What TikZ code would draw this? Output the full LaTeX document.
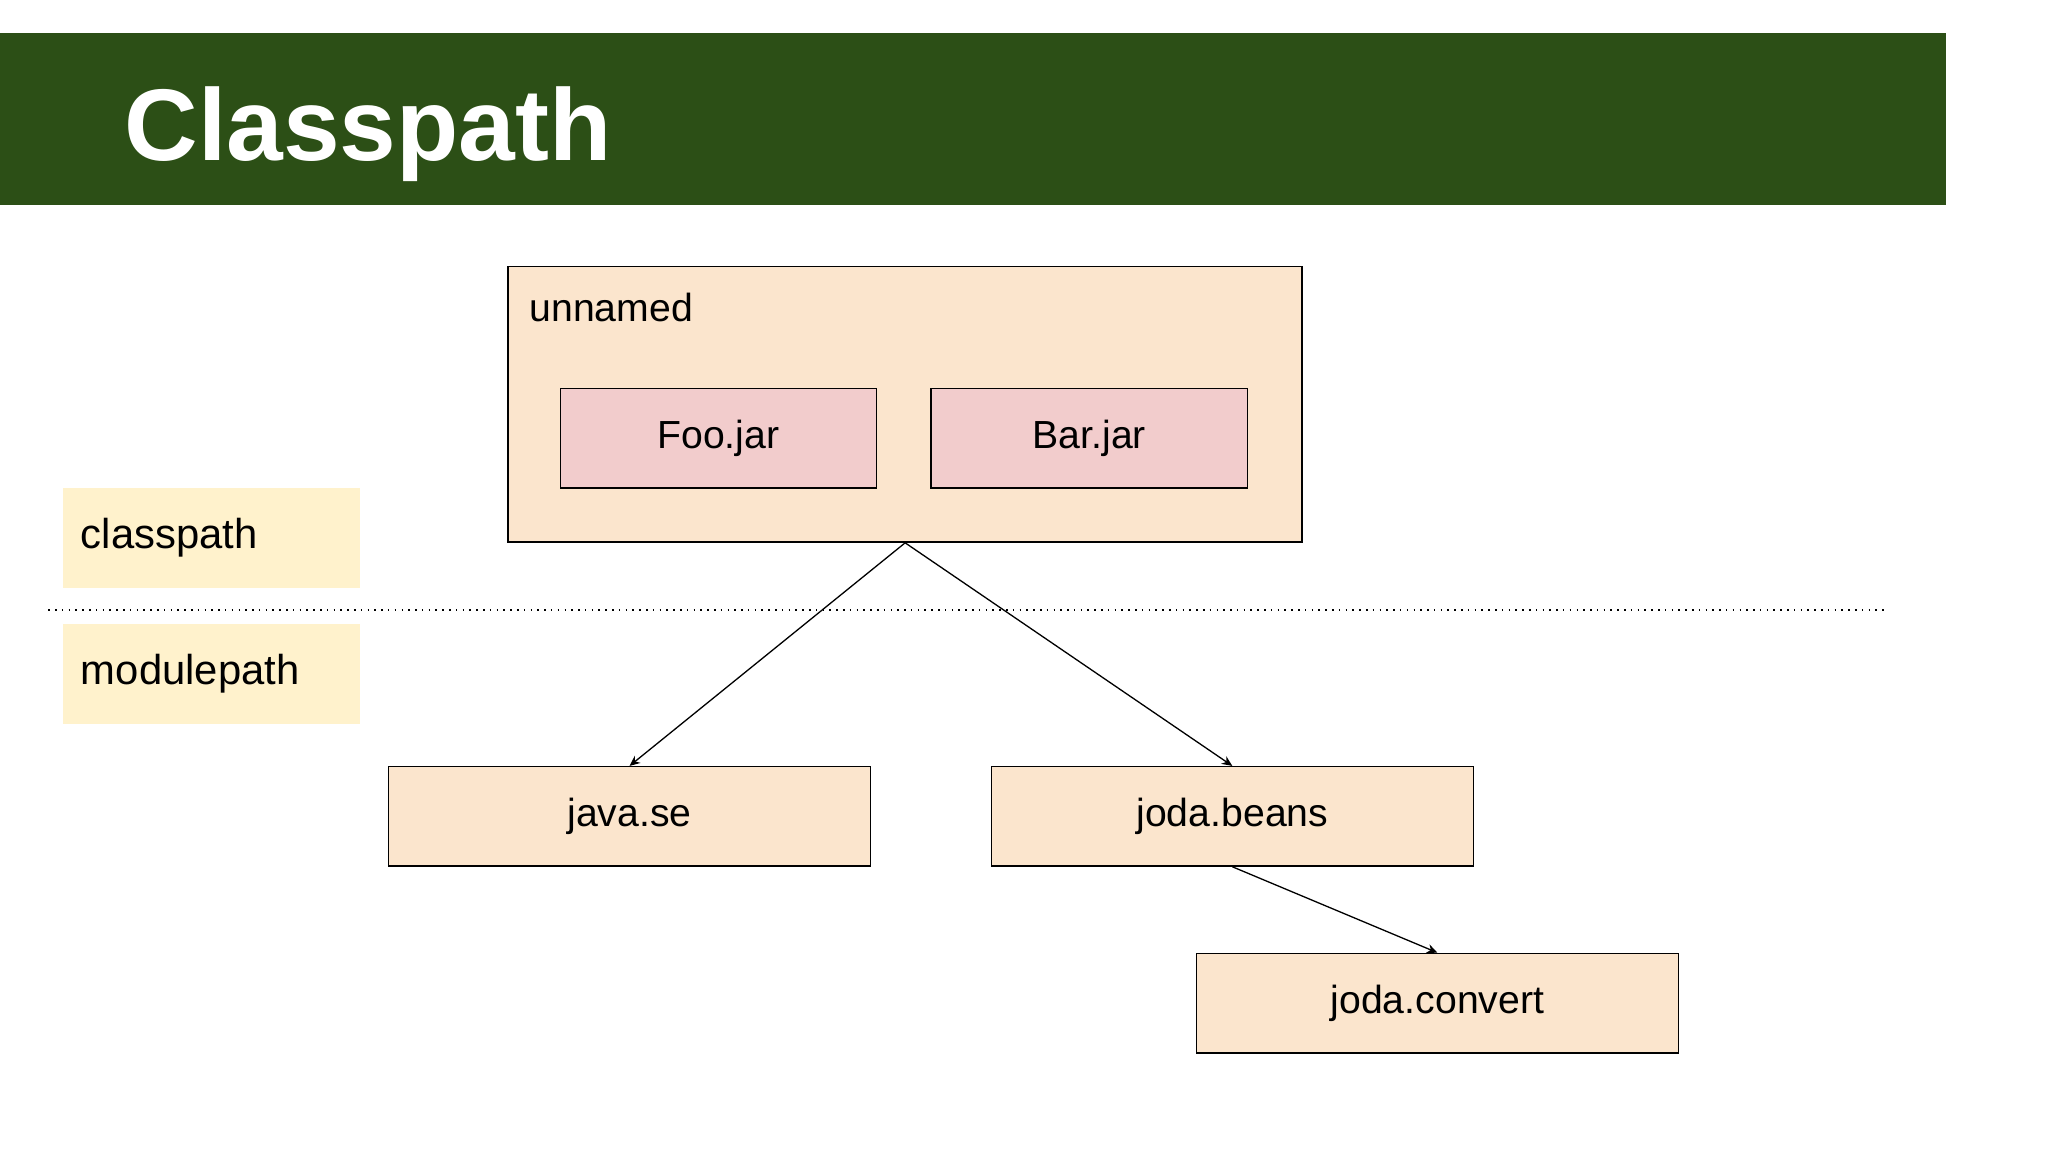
\documentclass[tikz,border=0pt]{standalone}
\usepackage{fontspec}
\setmainfont{Liberation Sans}
\usetikzlibrary{arrows.meta}
\definecolor{hdr}{HTML}{2C4F16}
\definecolor{peach}{HTML}{FBE5CD}
\definecolor{pinkb}{HTML}{F2CCCC}
\definecolor{yel}{HTML}{FFF2CC}
\tikzset{
 box/.style={draw=black,line width=0.6pt,fill=peach,minimum height=38pt,font=\fontsize{15}{18}\selectfont},
 jar/.style={box,fill=pinkb,minimum width=121pt},
 mod/.style={box,minimum width=184.5pt},
 lab/.style={fill=yel,minimum width=114pt,minimum height=38pt,text width=100pt,align=left,font=\fontsize{16}{19}\selectfont},
 arr/.style={-{Stealth[length=4pt,width=3.5pt]},line width=0.5pt}
}
\begin{document}
\begin{tikzpicture}[x=0.5pt,y=-0.5pt]
\useasboundingbox (0,0) rectangle (1568,882);
\fill[white] (0,0) rectangle (1568,882);
\fill[hdr] (0,25) rectangle (1490,157);
\node[anchor=base west,text=white,font=\fontsize{39}{44}\selectfont\bfseries,inner sep=0] (title) at (95,123) {Classpath};
\node[box,minimum width=304pt,minimum height=105.5pt] (un) at (693,309.5) {};
\node[anchor=base west,font=\fontsize{15}{18}\selectfont,inner sep=0] (unl) at (405,246) {unnamed};
\node[jar] (foo) at (550,335.5) {Foo.jar};
\node[jar] (bar) at (834,335.5) {Bar.jar};
\node[lab] (cp) at (162,412) {classpath};
\node[lab] (mp) at (162,516) {modulepath};
\coordinate (d1) at (37,467); \coordinate (d2) at (1445,467);
\draw[dotted,line width=0.6pt] (d1) -- (d2);
\node[mod] (java) at (482,625) {java.se};
\node[mod] (beans) at (943.5,625) {joda.beans};
\node[mod] (conv) at (1100.5,768) {joda.convert};
\draw[arr] (un.south) -- (java.north);
\draw[arr] (un.south) -- (beans.north);
\draw[arr] (beans.south) -- (conv.north);
\end{tikzpicture}
\end{document}
